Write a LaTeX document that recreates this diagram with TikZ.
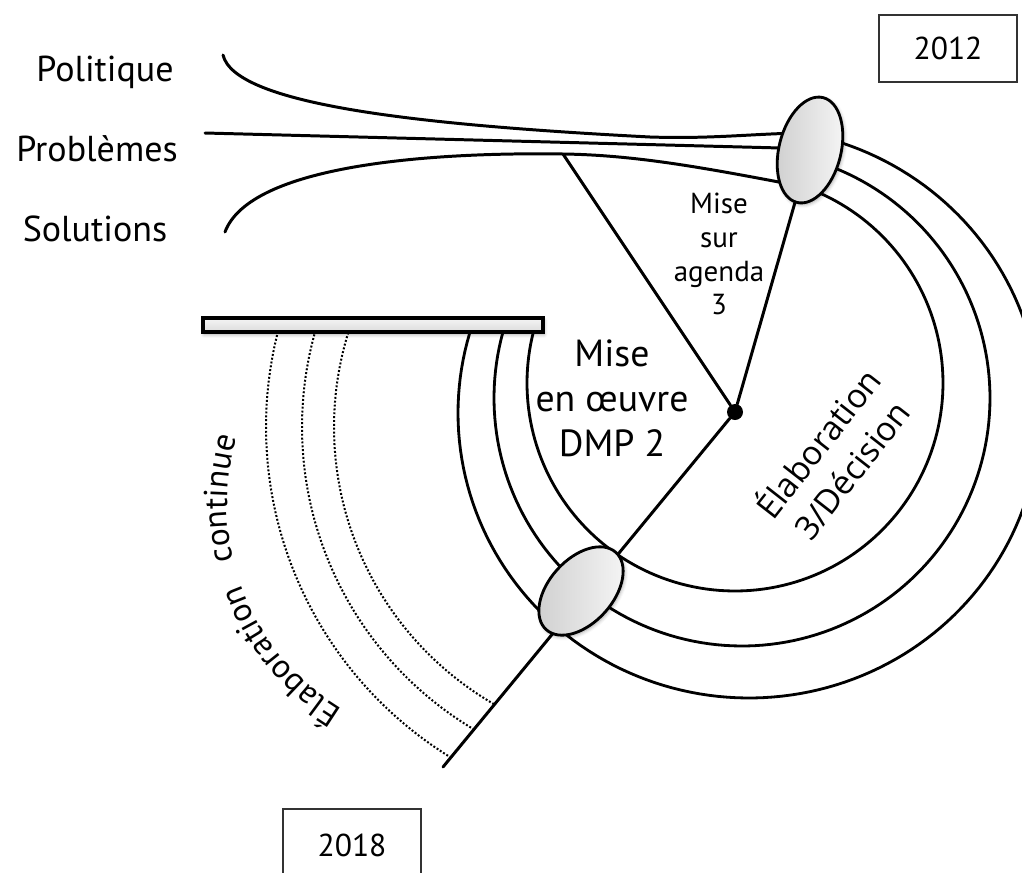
\documentclass[tikz,border=0pt]{standalone}
\usepackage{fontspec}
\setmainfont{PT Sans}
\newfontfamily\opensans{Open Sans}
\usetikzlibrary{shapes.geometric,decorations.text,shadows.blur}
\pgfdeclarelayer{background}
\pgfsetlayers{background,main}

\tikzset{
  stroke/.style={line width=1.7pt, line cap=round},
  ring/.style={line width=1.6pt},
  faint/.style={line width=1.15pt, dash pattern=on 1.1pt off 1.1pt},
  junction/.style={ellipse, draw=black, line width=1.6pt, inner sep=0pt,
    left color=gray!38, right color=gray!7,
    blur shadow={shadow xshift=0.8pt, shadow yshift=-1pt, shadow blur radius=2pt, shadow opacity=35}},
  hub/.style={circle, fill=black, inner sep=0pt, minimum size=0.32cm},
  shelf/.style={rectangle, draw=black, line width=1.8pt, inner sep=0pt,
    top color=gray!8, bottom color=gray!28,
    minimum width=6.8cm, minimum height=0.28cm,
    blur shadow={shadow xshift=0.6pt, shadow yshift=-1.4pt, shadow blur radius=2pt, shadow opacity=35}},
  yearbox/.style={draw=black!80, line width=1.3pt, inner sep=0pt,
    minimum width=2.76cm, font=\fontsize{18}{21}\selectfont},
  streamtext/.style={font=\fontsize{20.5}{24}\selectfont, anchor=base, inner sep=0pt},
  agendatext/.style={font=\fontsize{16.5}{19.3}\selectfont, align=center, inner sep=0pt},
  phasetext/.style={font=\fontsize{21.5}{25.5}\selectfont, align=center, inner sep=0pt},
  decisiontext/.style={font=\opensans\fontsize{19}{24.5}\selectfont, align=center, inner sep=0pt},
}

\begin{document}
\begin{tikzpicture}[x=0.02cm, y=-0.02cm]
\useasboundingbox (0,0) rectangle (1022,873);

% junction points, hub and the shelf
\node[junction, minimum width=2.16cm, minimum height=1.24cm, rotate=76] (top) at (810,150) {};
\node[junction, minimum width=2.08cm, minimum height=1.28cm, rotate=48] (low) at (581,591) {};
\node[hub] (hub) at (735,412) {};
\node[shelf] (bar) at (373,325) {};

% free ends of the streams and spokes
\coordinate (pol0) at (223,55);
\coordinate (prob0) at (205,133);
\coordinate (sol0) at (225,232);
\coordinate (polend) at (800,133);
\coordinate (probend) at (800,148.5);
\coordinate (solend) at (800,186);
\coordinate (sol) at (563,154);
\coordinate (tail) at (443,767);

\begin{pgfonlayer}{background}
  % three streams converging
  \draw[stroke] (pol0) .. controls (235,105) and (420,125) .. (650,137)
                       .. controls (710,139) and (750,134) .. (polend);
  \draw[stroke] (prob0) -- (probend);
  \draw[stroke] (sol0) .. controls (250,165) and (430,152) .. (sol)
                       .. controls (640,155) and (715,170) .. (solend);
  % spokes from the hub
  \draw[stroke] (hub) -- (top);
  \draw[stroke] (hub) -- (sol);
  \draw[stroke] (hub) -- (tail);
  % rings of the cycle
  \draw[ring] plot[domain=-70:196.2, samples=150] ({735+208*cos(\x)}, {383+208*sin(\x)});
  \draw[ring] plot[domain=-72:197.1, samples=150] ({742+248*cos(\x)}, {398+248*sin(\x)});
  \draw[ring] plot[domain=-73:198, samples=150] ({749+291*cos(\x)}, {413+285*sin(\x)});
  % continuous elaboration rings
  \draw[faint] plot[domain=120:197.3, samples=80] ({654+320*cos(\x)}, {427+320*sin(\x)});
  \draw[faint] plot[domain=120.7:195.7, samples=80] ({654+352*cos(\x)}, {427+352*sin(\x)});
  \draw[faint] plot[domain=121.5:194.2, samples=80] ({654+388*cos(\x)}, {427+388*sin(\x)});
\end{pgfonlayer}

% stream labels
\node[streamtext] (politique) at (105,81) {Politique};
\node[streamtext] (problemes) at (97,161) {Problèmes};
\node[streamtext] (solutions) at (95,241) {Solutions};

% phase labels
\node[agendatext] (agenda) at (719,254) {Mise\\sur\\agenda\\3};
\node[phasetext] (oeuvre) at (612,398) {Mise\\en œuvre\\DMP 2};
\node[decisiontext, rotate=52] (decision) at (833,455) {Élaboration\\3/Décision};

% curved label along the dotted rings
\path[decorate, decoration={text along path, text align=left,
      text={|\fontsize{19}{22}\selectfont|Élaboration}}]
  plot[domain=121:168, samples=80] ({465+238*cos(\x)}, {505+238*sin(\x)});
\path[decorate, decoration={text along path, text align=left,
      text={|\fontsize{19}{22}\selectfont|continue}}]
  plot[domain=166.5:210, samples=80] ({465+238*cos(\x)}, {505+238*sin(\x)});

% years
\node[yearbox, minimum height=1.34cm] (y2012) at (948,48.5) {2012};
\node[yearbox, minimum height=1.44cm] (y2018) at (352,845) {2018};
\end{tikzpicture}
\end{document}
